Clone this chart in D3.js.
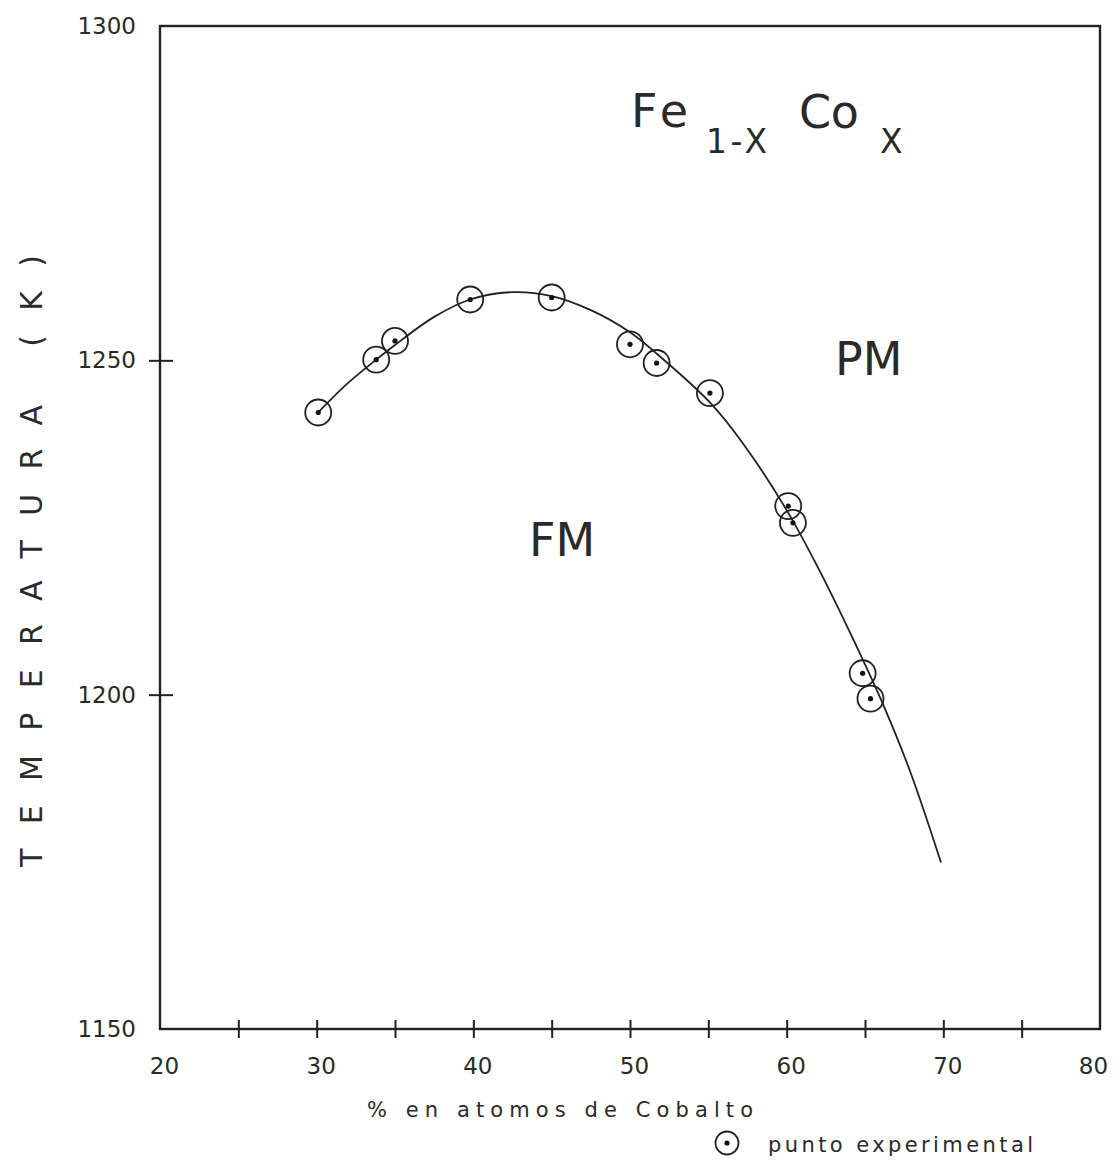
<!DOCTYPE html>
<html lang="es">
<head>
    <meta charset="UTF-8">
    <title>Fe1-x Cox - Temperatura de Curie</title>
    <script src="https://d3js.org/d3.v7.min.js"></script>
    <style>
        body { margin: 0; background: #fff; }
        text { font-family: "DejaVu Sans", "Liberation Sans", sans-serif; fill: #2a2a2a; }
        .frame { fill: none; stroke: #222; stroke-width: 2.4; }
        .axis path { display: none; }
        .axis line { stroke: #222; stroke-width: 2; }
        .axis text { font-size: 23px; fill: #2a2a2a; }
        .curve { fill: none; stroke: #222; stroke-width: 1.8; }
        .ring { fill: none; stroke: #222; stroke-width: 1.8; }
        .dot { fill: #111; }
    </style>
</head>
<body>
<script>
    // Puntos experimentales (% Co, T en K)
    const pointCo = [30.1, 33.8, 35.0, 39.8, 45.0, 50.0, 51.7, 55.1, 60.1, 60.4, 64.85, 65.35];
    const pointT  = [1242.2, 1250.1, 1252.9, 1259.1, 1259.4, 1252.4, 1249.6, 1245.1, 1228.2, 1225.7, 1203.2, 1199.4];

    // Curva trazada a mano
    const curveCo = [30.1, 31.9, 33.8, 35.0, 37.5, 39.8, 42.5, 45.0, 47.5, 50.0, 51.7, 55.1, 57.2, 60.0, 62.0, 64.0, 66.2, 67.9, 69.85];
    const curveT  = [1242.2, 1246.4, 1250.1, 1252.3, 1256.5, 1259.1, 1260.2, 1259.6, 1257.5, 1254.2, 1251.0, 1243.7, 1237.6, 1227.6, 1219.0, 1209.5, 1198.3, 1188.4, 1174.9];

    const xTicksMinor = [25, 30, 35, 40, 45, 50, 55, 60, 65, 70, 75];
    const xTickLabels = [20, 30, 40, 50, 60, 70, 80];
    const yTicksMinor = [1200, 1250];
    const yTickLabels = [1150, 1200, 1250, 1300];

    const margin = {top: 26, right: 18, bottom: 134, left: 160};
    const W = 1118, H = 1163;
    const width = W - margin.left - margin.right;
    const height = H - margin.top - margin.bottom;

    const svg = d3.select("body").append("svg")
        .attr("width", W)
        .attr("height", H);

    const g = svg.append("g")
        .attr("transform", `translate(${margin.left},${margin.top})`);

    const x = d3.scaleLinear().domain([20, 80]).range([0, width]);
    const y = d3.scaleLinear().domain([1150, 1300]).range([height, 0]);

    // marco
    g.append("rect").attr("class", "frame")
        .attr("x", 0).attr("y", 0).attr("width", width).attr("height", height);

    // marcas eje x (cruzan el eje)
    g.append("g").attr("class", "axis")
        .attr("transform", `translate(0,${height + 9})`)
        .call(d3.axisBottom(x).tickValues(xTicksMinor).tickSize(18).tickFormat(""))
        .selectAll("line").attr("y1", -18).attr("y2", 0);

    g.append("g").attr("class", "axis")
        .attr("transform", `translate(0,${height})`)
        .call(d3.axisBottom(x).tickValues(xTickLabels).tickSize(0).tickPadding(29).tickFormat(d3.format("d")))
        .selectAll("text").attr("dx", d => d === 80 ? -7 : 4);

    // marcas eje y
    g.append("g").attr("class", "axis")
        .attr("transform", "translate(13,0)")
        .call(d3.axisLeft(y).tickValues(yTicksMinor).tickSize(24).tickFormat(""));

    g.append("g").attr("class", "axis")
        .call(d3.axisLeft(y).tickValues(yTickLabels).tickSize(0).tickPadding(24).tickFormat(d3.format("d")));

    // curva
    const curveData = curveCo.map((c, i) => [c, curveT[i]]);
    g.append("path").datum(curveData)
        .attr("class", "curve")
        .attr("d", d3.line().x(d => x(d[0])).y(d => y(d[1])).curve(d3.curveCatmullRom.alpha(0.5)));

    // puntos
    const pts = pointCo.map((c, i) => ({c: c, t: pointT[i]}));
    g.selectAll(".ring").data(pts).enter().append("circle")
        .attr("class", "ring")
        .attr("cx", d => x(d.c)).attr("cy", d => y(d.t)).attr("r", 13);
    g.selectAll(".dot").data(pts).enter().append("circle")
        .attr("class", "dot")
        .attr("cx", d => x(d.c)).attr("cy", d => y(d.t)).attr("r", 2.6);

    // titulo Fe1-x Cox
    const title = svg.append("g");
    title.append("text").attr("x", 631).attr("y", 127).attr("font-size", 46)
        .attr("textLength", 57).attr("lengthAdjust", "spacing").text("Fe");
    title.append("text").attr("x", 706).attr("y", 153).attr("font-size", 33)
        .attr("textLength", 61).attr("lengthAdjust", "spacing").text("1-X");
    title.append("text").attr("x", 799).attr("y", 128).attr("font-size", 46)
        .attr("textLength", 60).attr("lengthAdjust", "spacing").text("Co");
    title.append("text").attr("x", 880).attr("y", 153).attr("font-size", 33).text("X");

    // regiones
    svg.append("text").attr("x", 835).attr("y", 375).attr("font-size", 46).text("PM");
    svg.append("text").attr("x", 529).attr("y", 556).attr("font-size", 46).text("FM");

    // etiqueta eje y
    svg.append("text")
        .attr("transform", "translate(42,561) rotate(-90)")
        .attr("text-anchor", "middle")
        .attr("font-size", 30)
        .attr("textLength", 612).attr("lengthAdjust", "spacing")
        .text("TEMPERATURA (K)");

    // etiqueta eje x
    svg.append("text")
        .attr("x", 367).attr("y", 1117)
        .attr("font-size", 21)
        .attr("textLength", 386).attr("lengthAdjust", "spacing")
        .text("% en atomos de Cobalto");

    // leyenda
    svg.append("circle").attr("class", "ring").attr("cx", 727).attr("cy", 1143).attr("r", 11.5);
    svg.append("circle").attr("class", "dot").attr("cx", 727).attr("cy", 1143).attr("r", 2.6);
    svg.append("text")
        .attr("x", 768).attr("y", 1152)
        .attr("font-size", 21)
        .attr("textLength", 265).attr("lengthAdjust", "spacing")
        .text("punto experimental");
</script>
</body>
</html>
